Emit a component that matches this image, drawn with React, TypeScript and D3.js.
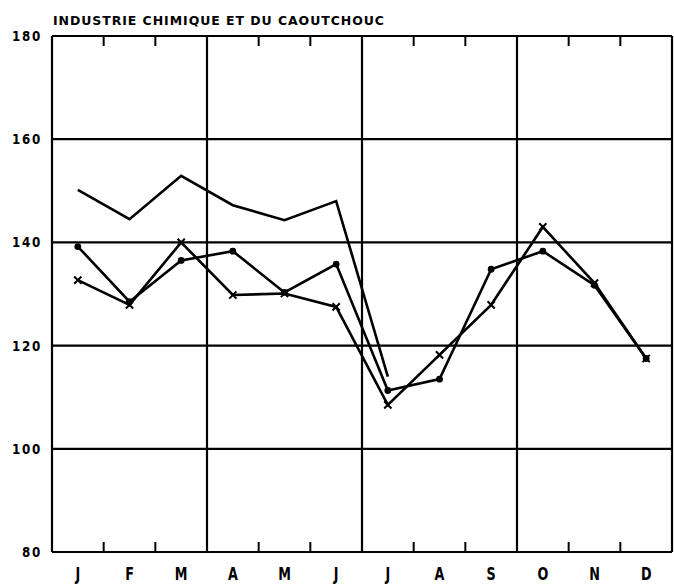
import React, { useEffect, useRef } from 'react';
import * as d3 from 'd3';

const months = ['J', 'F', 'M', 'A', 'M', 'J', 'J', 'A', 'S', 'O', 'N', 'D'];
const yTicks = [80, 100, 120, 140, 160, 180];
const title = 'INDUSTRIE CHIMIQUE ET DU CAOUTCHOUC';

// plain line, stops in July
const serieA = [150.2, 144.5, 152.9, 147.2, 144.3, 148.0, 114.0];
// dots
const serieB = [139.2, 128.5, 136.5, 138.3, 130.3, 135.8, 111.3, 113.5, 134.8, 138.3, 131.7, 117.5];
// crosses
const serieC = [132.7, 127.9, 140.0, 129.8, 130.1, 127.5, 108.5, 118.2, 127.9, 143.0, 132.1, 117.5];

const W = 674;
const H = 585;

const App = () => {
  const svgRef = useRef<SVGSVGElement>(null);

  useEffect(() => {
    const svg = d3.select(svgRef.current);
    svg.selectAll('*').remove();

    const margin = { top: 36, right: 2, bottom: 33, left: 52 };
    const gw = W - margin.left - margin.right;
    const gh = H - margin.top - margin.bottom;
    const g = svg.append('g').attr('transform', `translate(${margin.left},${margin.top})`);

    const x = d3.scaleBand().domain(d3.range(12).map(String)).range([0, gw]);
    const y = d3.scaleLinear().domain([80, 180]).range([gh, 0]);
    const cx = (i: number) => (x(String(i)) as number) + x.bandwidth() / 2;

    // horizontal grid
    g.selectAll('line.h')
      .data(yTicks)
      .enter()
      .append('line')
      .attr('x1', 0)
      .attr('x2', gw)
      .attr('y1', d => y(d))
      .attr('y2', d => y(d))
      .attr('stroke', '#000')
      .attr('stroke-width', 2.2);

    // quarter lines
    g.selectAll('line.q')
      .data([0, 3, 6, 9, 12])
      .enter()
      .append('line')
      .attr('x1', d => x.bandwidth() * d)
      .attr('x2', d => x.bandwidth() * d)
      .attr('y1', 0)
      .attr('y2', gh)
      .attr('stroke', '#000')
      .attr('stroke-width', 2.2);

    // month ticks top and bottom
    const tickIdx = d3.range(1, 12).filter(i => i % 3 !== 0);
    tickIdx.forEach(i => {
      const xx = x.bandwidth() * i;
      g.append('line').attr('x1', xx).attr('x2', xx).attr('y1', 0).attr('y2', 10)
        .attr('stroke', '#000').attr('stroke-width', 2);
      g.append('line').attr('x1', xx).attr('x2', xx).attr('y1', gh).attr('y2', gh - 10)
        .attr('stroke', '#000').attr('stroke-width', 2);
    });

    const line = d3.line<number>().x((d, i) => cx(i)).y(d => y(d));

    [serieA, serieB, serieC].forEach(s => {
      g.append('path')
        .datum(s)
        .attr('d', line)
        .attr('fill', 'none')
        .attr('stroke', '#000')
        .attr('stroke-width', 2.6)
        .attr('stroke-linejoin', 'miter');
    });

    g.selectAll('circle.b')
      .data(serieB)
      .enter()
      .append('circle')
      .attr('cx', (d, i) => cx(i))
      .attr('cy', d => y(d))
      .attr('r', 3.4)
      .attr('fill', '#000');

    const cross = d3.symbol().type(d3.symbolX).size(36);
    g.selectAll('path.c')
      .data(serieC)
      .enter()
      .append('path')
      .attr('d', cross)
      .attr('transform', (d, i) => `translate(${cx(i)},${y(d)})`)
      .attr('fill', '#000')
      .attr('stroke', '#000')
      .attr('stroke-width', 2);

    // y labels
    svg.append('g')
      .selectAll('text')
      .data(yTicks)
      .enter()
      .append('text')
      .attr('transform', d => `translate(42,${margin.top + y(d) + 5}) scale(0.85,1)`)
      .attr('text-anchor', 'end')
      .attr('font-family', 'DejaVu Sans, sans-serif')
      .attr('font-weight', 'bold')
      .attr('font-size', 14)
      .attr('letter-spacing', 2)
      .text(d => d);

    // month labels
    svg.append('g')
      .selectAll('text')
      .data(months)
      .enter()
      .append('text')
      .attr('transform', (d, i) => `translate(${margin.left + cx(i)},580) scale(0.75,1)`)
      .attr('text-anchor', 'middle')
      .attr('font-family', 'DejaVu Sans, sans-serif')
      .attr('font-weight', 'bold')
      .attr('font-size', 17)
      .text(d => d);

    svg.append('text')
      .attr('transform', 'translate(53,25)')
      .attr('font-family', 'DejaVu Sans, sans-serif')
      .attr('font-weight', 'bold')
      .attr('font-size', 12.5)
      .attr('textLength', 331)
      .attr('lengthAdjust', 'spacing')
      .text(title);
  }, []);

  return (
    <svg
      ref={svgRef}
      width={W}
      height={H}
      style={{ position: 'absolute', left: 0, top: 0, background: '#fff' }}
    />
  );
};

export default App;
